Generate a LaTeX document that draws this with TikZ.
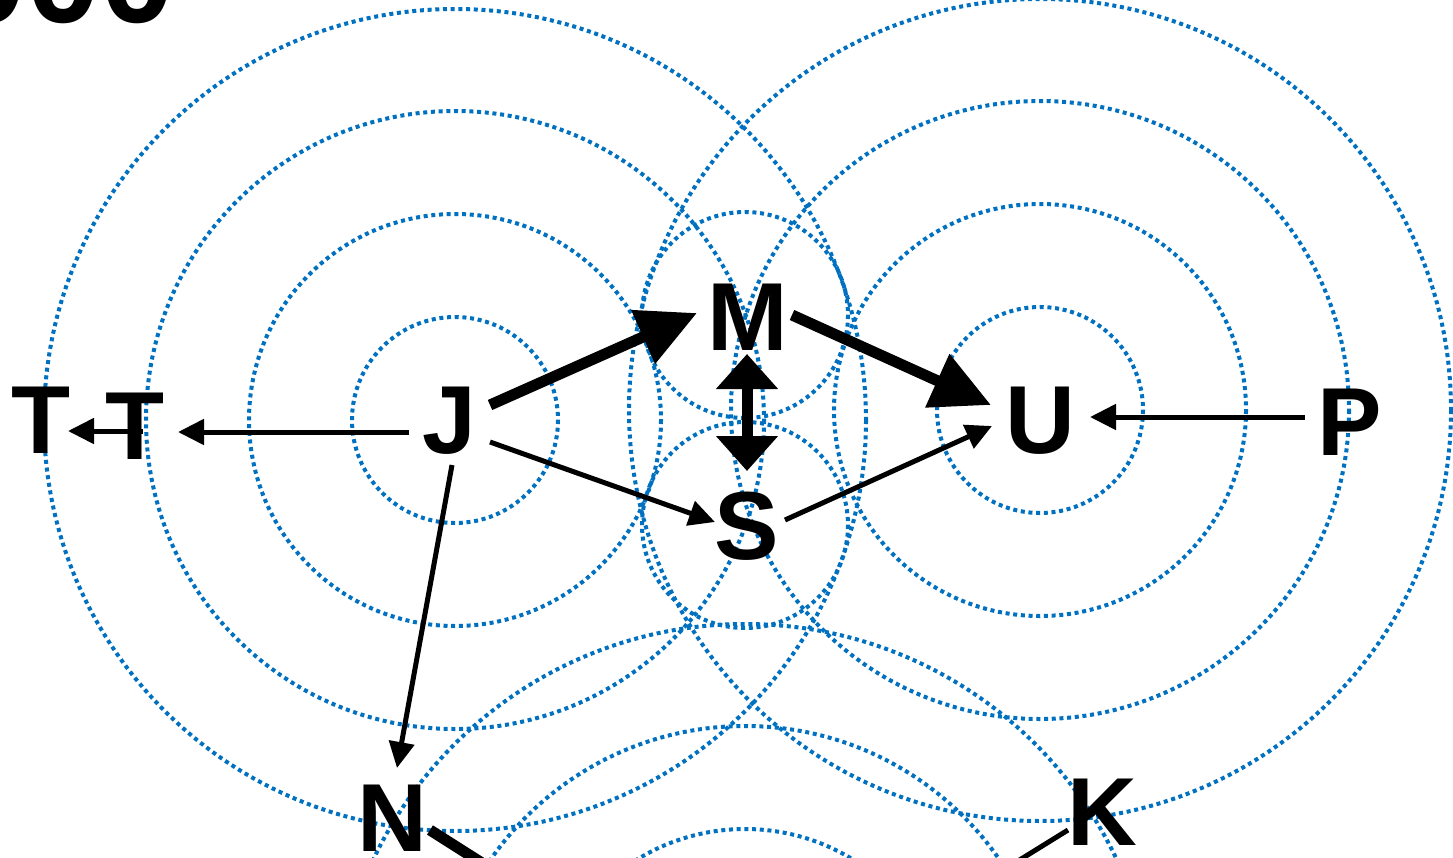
\documentclass[tikz,border=0pt]{standalone}
\usepackage{fontspec}
\setmainfont{Liberation Sans}
\usetikzlibrary{arrows.meta}
\definecolor{rippleblue}{RGB}{0,112,192}

\begin{document}
\begin{tikzpicture}[x=0.2mm,y=-0.2mm,
  ring/.style={draw=rippleblue,line width=0.8mm,dash pattern=on 0.8mm off 0.74mm},
  letter/.style={font=\fontsize{55}{60}\selectfont\bfseries,inner sep=0pt},
  link/.style={line width=1mm,-{Triangle[length=5.2mm,width=5mm]}},
  heavy/.style={line width=2.2mm,-{Triangle[length=11.8mm,width=11.2mm]}},
  both/.style={line width=2.2mm,{Triangle[length=7mm,width=12mm]}-{Triangle[length=7mm,width=12mm]}}]
\useasboundingbox (0,0) rectangle (1453,857);
\clip (0,0) rectangle (1453,857);
% ripples
\foreach \r in {103,206,309,411}{
  \draw[ring] (455,420) circle[radius=\r];
  \draw[ring] (1040,410) circle[radius=\r];
  \draw[ring] (745,1035) circle[radius=\r];
}
\draw[ring] (745,315) circle[radius=103];
\draw[ring] (745,525) circle[radius=103];
% letters
\node[anchor=base west,font=\fontsize{76}{80}\selectfont\bfseries,inner sep=0pt] (year) at (-48,23) {000};
\node[letter] (T1) at (41,420) {T};
\node[letter] (T2) at (135,426) {T};
\node[letter] (J) at (449,421) {J};
\node[letter] (M) at (748,317) {M};
\node[letter] (S) at (747,526) {S};
\node[letter] (U) at (1040,421) {U};
\node[letter] (P) at (1350,422) {P};
\node[letter] (N) at (392,818) {N};
\node[letter] (K) at (1102,812) {K};
\coordinate (bottom) at (745,1030);
% arrows
\draw[link] ([shift={(-40,11)}]J.center) -- ([shift={(43,6)}]T2.center);
\draw[link] ([shift={(8,5)}]T2.center) -- ([shift={(27,11)}]T1.center);
\draw[heavy] ([shift={(41,-16)}]J.center) -- ([shift={(-51,-4)}]M.center);
\draw[heavy] ([shift={(44,-2)}]M.center) -- ([shift={(-49,-16)}]U.center);
\draw[both] ([shift={(-1,37)}]M.center) -- ([shift={(0,-55)}]S.center);
\draw[link] ([shift={(41,21)}]J.center) -- ([shift={(-32,-4)}]S.center);
\draw[link] ([shift={(38,-6)}]S.center) -- ([shift={(-48,5)}]U.center);
\draw[link] ([shift={(-45,-5)}]P.center) -- ([shift={(50,-4)}]U.center);
\draw[link] ([shift={(3,44)}]J.center) -- ([shift={(5,-50)}]N.center);
\draw[line width=2.2mm] ([shift={(38,12)}]N.center) -- (bottom);
\draw[line width=1mm] ([shift={(-34,18)}]K.center) -- (bottom);
\end{tikzpicture}
\end{document}
